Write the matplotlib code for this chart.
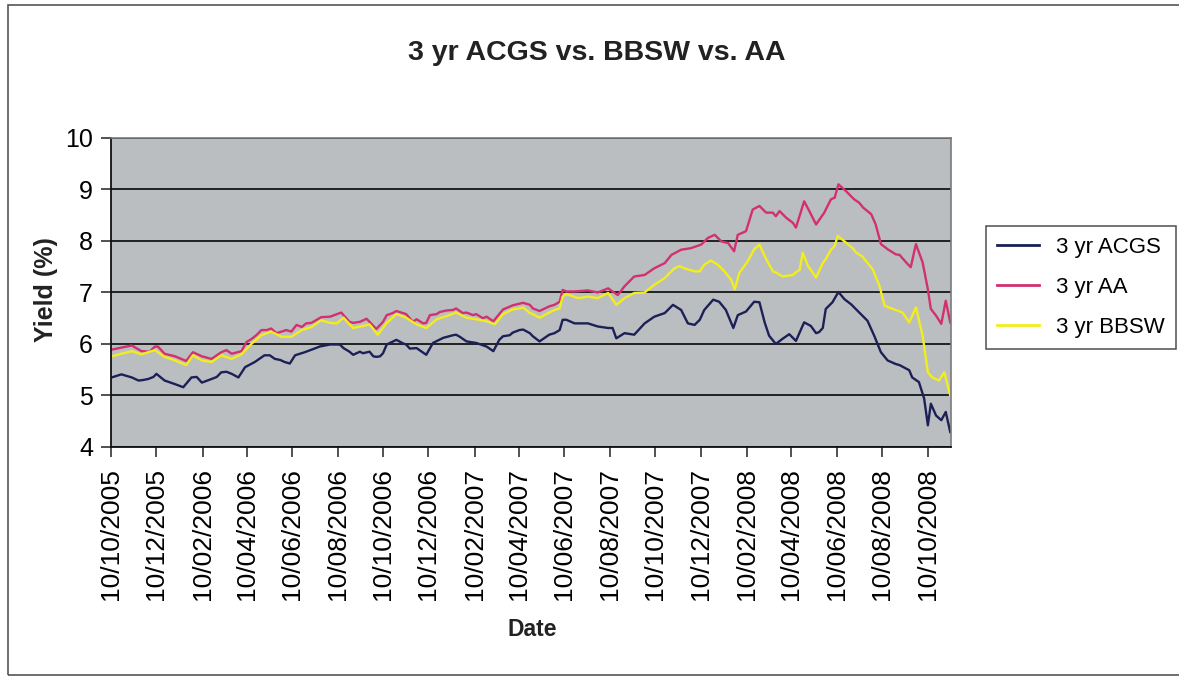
import numpy as np
import pandas as pd
import matplotlib
matplotlib.use("Agg")
import matplotlib.pyplot as plt
import matplotlib.dates as mdates
from matplotlib.patches import Rectangle

plt.rcParams['font.family'] = ['Liberation Sans', 'DejaVu Sans']

start = pd.Timestamp("2005-10-10")
n_days = 1127

# ------------------------------------------------------------
# yields (%), x given as days after 10/10/2005
# ------------------------------------------------------------
acgs_day = [1, 14, 28, 37, 50, 61, 72, 86, 97, 108, 122, 135, 148, 162, 171, 180, 193, 206,
            220, 233, 247, 260, 273, 287, 294, 307, 312, 325, 338, 352, 361, 370, 383, 396,
            410, 423, 432, 446, 463, 477, 490, 504, 513, 526, 539, 553, 566, 575, 588, 595,
            606, 622, 640, 653, 667, 678, 689, 702, 716, 729, 743, 754, 765, 774, 783, 796,
            808, 816, 825, 835, 841, 852, 863, 870, 877, 883, 892, 901, 910, 919, 930, 939,
            950, 959, 968, 976, 984, 993, 1004, 1015, 1024, 1033, 1042, 1053, 1067, 1075,
            1084, 1091, 1096, 1100, 1107, 1114, 1120, 1126]
acgs = [5.35, 5.41, 5.35, 5.29, 5.32, 5.42, 5.29, 5.22, 5.16, 5.35, 5.25, 5.32, 5.45, 5.42,
        5.35, 5.55, 5.65, 5.78, 5.71, 5.65, 5.78, 5.84, 5.91, 5.97, 5.99, 5.99, 5.92, 5.79,
        5.82, 5.76, 5.76, 5.99, 6.08, 5.99, 5.92, 5.79, 6.02, 6.12, 6.18, 6.05, 6.02, 5.95,
        5.86, 6.15, 6.22, 6.28, 6.15, 6.05, 6.18, 6.21, 6.47, 6.40, 6.40, 6.34, 6.31, 6.11,
        6.21, 6.18, 6.40, 6.53, 6.60, 6.76, 6.66, 6.40, 6.37, 6.66, 6.86, 6.82, 6.66, 6.31,
        6.56, 6.63, 6.82, 6.81, 6.42, 6.16, 6.00, 6.10, 6.19, 6.06, 6.42, 6.35, 6.23, 6.68,
        6.81, 7.01, 6.87, 6.77, 6.61, 6.45, 6.16, 5.84, 5.68, 5.61, 5.52, 5.35, 5.26, 4.94,
        4.42, 4.84, 4.61, 4.52, 4.68, 4.29]
# extra in-between readings
acgs_day2 = [43, 57, 115, 142, 155, 213, 227, 240, 280, 320, 334, 347, 356, 365, 392, 401,
             414, 459, 468, 521, 535, 548, 562, 602, 611, 673, 790, 946, 955, 1058, 1071, 1080]
acgs2 = [5.30, 5.36, 5.36, 5.36, 5.46, 5.78, 5.69, 5.62, 5.95, 5.85, 5.85, 5.85, 5.75, 5.82,
         6.01, 5.91, 5.88, 6.17, 6.14, 6.08, 6.17, 6.27, 6.21, 6.27, 6.47, 6.31, 6.47, 6.21,
         6.31, 5.59, 5.49, 5.30]

aa_day = [1, 14, 28, 41, 59, 72, 86, 101, 110, 122, 135, 148, 162, 175, 189, 202, 215, 229,
          242, 256, 269, 282, 294, 309, 325, 343, 356, 370, 383, 396, 410, 423, 437, 450,
          463, 477, 490, 504, 513, 526, 539, 553, 566, 575, 588, 595, 606, 622, 640, 653,
          667, 680, 689, 702, 716, 729, 743, 752, 765, 778, 792, 801, 810, 819, 828, 836,
          841, 852, 861, 870, 879, 892, 906, 915, 919, 930, 937, 946, 957, 966, 976, 986,
          997, 1009, 1020, 1026, 1033, 1042, 1053, 1067, 1073, 1080, 1089, 1096, 1100,
          1107, 1114, 1120, 1126]
aa = [5.89, 5.93, 5.97, 5.86, 5.95, 5.81, 5.76, 5.67, 5.84, 5.76, 5.71, 5.84, 5.81, 5.86,
      6.10, 6.27, 6.30, 6.24, 6.24, 6.33, 6.41, 6.52, 6.53, 6.61, 6.41, 6.49, 6.29, 6.56,
      6.64, 6.58, 6.48, 6.41, 6.58, 6.65, 6.69, 6.61, 6.58, 6.53, 6.44, 6.67, 6.75, 6.80,
      6.69, 6.64, 6.73, 6.76, 7.05, 7.02, 7.04, 7.00, 7.08, 6.95, 7.12, 7.31, 7.34, 7.47,
      7.57, 7.73, 7.83, 7.86, 7.93, 8.06, 8.12, 7.99, 7.96, 7.80, 8.12, 8.19, 8.61, 8.68,
      8.55, 8.48, 8.45, 8.35, 8.26, 8.77, 8.58, 8.32, 8.55, 8.81, 9.10, 8.97, 8.81, 8.65,
      8.52, 8.32, 7.94, 7.84, 7.74, 7.58, 7.49, 7.94, 7.58, 7.06, 6.68, 6.55, 6.39, 6.84,
      6.42]
aa_day2 = [52, 63, 155, 182, 195, 209, 222, 235, 249, 262, 320, 334, 365, 378, 405, 419,
           428, 441, 459, 472, 486, 499, 562, 602, 611, 888, 897, 971, 1004, 1058]
aa2 = [5.85, 5.95, 5.88, 6.04, 6.17, 6.27, 6.21, 6.27, 6.37, 6.40, 6.43, 6.43, 6.43, 6.60,
       6.43, 6.40, 6.56, 6.62, 6.66, 6.60, 6.56, 6.50, 6.76, 6.82, 7.02, 8.55, 8.58, 8.84,
       8.74, 7.73]

bbsw_day = [1, 14, 28, 41, 59, 72, 86, 101, 110, 122, 135, 148, 162, 175, 189, 202, 215, 229,
            242, 256, 269, 282, 294, 303, 312, 325, 338, 347, 358, 370, 383, 396, 410, 423,
            437, 450, 463, 477, 490, 504, 515, 526, 539, 553, 566, 575, 588, 595, 606, 611,
            627, 640, 653, 667, 678, 689, 702, 716, 729, 743, 756, 769, 783, 796, 805, 814,
            823, 832, 837, 843, 854, 863, 870, 879, 892, 906, 919, 928, 935, 946, 959, 971,
            975, 986, 1000, 1013, 1022, 1031, 1038, 1049, 1062, 1071, 1080, 1089, 1096,
            1102, 1111, 1118, 1126]
bbsw = [5.76, 5.81, 5.86, 5.80, 5.88, 5.75, 5.68, 5.59, 5.78, 5.68, 5.65, 5.78, 5.71, 5.80,
        6.01, 6.17, 6.24, 6.14, 6.14, 6.27, 6.33, 6.46, 6.41, 6.40, 6.51, 6.31, 6.35, 6.38,
        6.18, 6.41, 6.58, 6.51, 6.38, 6.31, 6.48, 6.54, 6.61, 6.51, 6.48, 6.44, 6.38, 6.58,
        6.67, 6.71, 6.58, 6.51, 6.61, 6.66, 6.92, 6.97, 6.89, 6.92, 6.89, 6.99, 6.76, 6.89,
        6.99, 7.00, 7.15, 7.28, 7.47, 7.47, 7.41, 7.54, 7.62, 7.54, 7.41, 7.25, 7.06, 7.38,
        7.60, 7.84, 7.93, 7.65, 7.39, 7.32, 7.39, 7.77, 7.52, 7.29, 7.65, 7.90, 8.10, 7.97,
        7.77, 7.61, 7.45, 7.13, 6.74, 6.68, 6.61, 6.42, 6.71, 6.16, 5.45, 5.35, 5.29, 5.45,
        5.00]
bbsw_day2 = [548, 562, 602, 763, 776, 790, 888, 901, 915, 924, 955, 966, 995, 1008]
bbsw2 = [6.69, 6.60, 6.69, 7.51, 7.44, 7.41, 7.41, 7.31, 7.34, 7.44, 7.57, 7.83, 7.86, 7.70]


def merged(days, vals, days2, vals2):
    d = np.concatenate([days, days2])
    v = np.concatenate([vals, vals2])
    order = np.argsort(d, kind="stable")
    return start + pd.to_timedelta(d[order], unit="D"), v[order]


series = [("3 yr ACGS", merged(acgs_day, acgs, acgs_day2, acgs2), "#1c2056"),
          ("3 yr AA", merged(aa_day, aa, aa_day2, aa2), "#d2306f"),
          ("3 yr BBSW", merged(bbsw_day, bbsw, bbsw_day2, bbsw2), "#f2ee1c")]

# ------------------------------------------------------------
# plot
# ------------------------------------------------------------
fig = plt.figure(figsize=(11.79, 6.76), dpi=100)
fig.patch.set_facecolor("white")

ax = fig.add_axes([0.0941, 0.3388, 0.7125, 0.4571])
ax.set_facecolor("#babec1")

for name, (d, vals), col in series:
    ax.plot(d, vals, color=col, lw=1.7, label=name)

ax.set_xlim(start, start + pd.Timedelta(days=n_days))
ax.set_ylim(4, 10)
ax.set_yticks(range(4, 11))
ax.yaxis.grid(True, color="#151515", lw=1.3)
ax.set_axisbelow(True)

ax.xaxis.set_major_locator(mdates.MonthLocator(bymonth=[2, 4, 6, 8, 10, 12], bymonthday=10))
ax.xaxis.set_major_formatter(mdates.DateFormatter("%d/%m/%Y"))
ax.tick_params(axis="x", rotation=90, labelsize=19, length=7, width=1.1,
               color="#222222", pad=8)
ax.tick_params(axis="y", labelsize=18, length=7, width=1.1, color="#222222", pad=6)

for side in ["left", "bottom"]:
    ax.spines[side].set_color("#111111")
    ax.spines[side].set_linewidth(1.3)
for side in ["top", "right"]:
    ax.spines[side].set_color("#7a7a7a")
    ax.spines[side].set_linewidth(1.2)

fig.text(0.506, 1 - 53 / 676, "3 yr ACGS vs. BBSW vs. AA", ha="center", va="center",
         fontsize=20.5, fontweight="bold", color="#222222")
fig.text(46 / 1179, 1 - 290 / 676, "Yield (%)", ha="center", va="center", rotation=90,
         fontsize=18, fontweight="bold", color="#222222")
fig.text(532 / 1179, 1 - 630 / 676, "Date", ha="center", va="center",
         fontsize=16.5, fontweight="bold", color="#222222")

leg = fig.legend(loc="upper left", bbox_to_anchor=(986 / 1179, 1 - 226 / 676), fontsize=16,
                 frameon=True, fancybox=False, handlelength=1.9, labelspacing=0.85,
                 borderpad=0.5, handletextpad=0.75, borderaxespad=0)
leg.get_frame().set_edgecolor("#222222")
leg.get_frame().set_linewidth(1.1)
for h in leg.get_lines():
    h.set_linewidth(2.0)

# outer chart border
fig.patches.append(Rectangle((8 / 1179, 0.002), 1.2, 0.991, transform=fig.transFigure,
                             fill=False, edgecolor="#555555", lw=1.2))

fig.savefig("out.png", dpi=100)
